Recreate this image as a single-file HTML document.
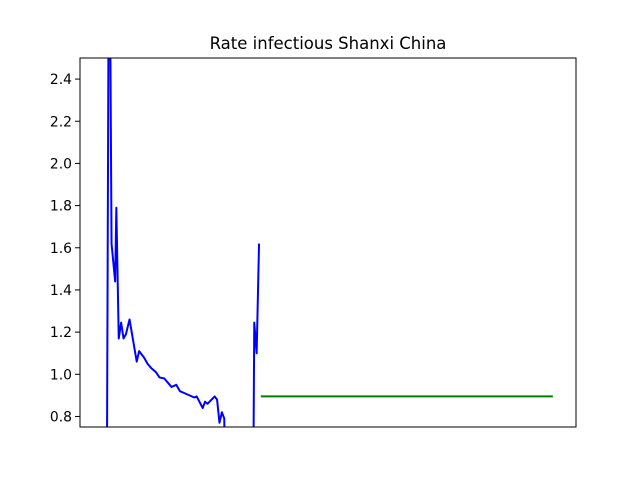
<!DOCTYPE html>
<html><head><meta charset="utf-8"><style>html,body{margin:0;padding:0;background:#fff;width:640px;height:480px;overflow:hidden;position:relative}svg{display:block;position:absolute;left:0;top:0;font-family:"DejaVu Sans","Liberation Sans",sans-serif}</style></head>
<body>
<svg id="chart" width="640" height="480" viewBox="0 0 640 480">
<rect width="640" height="480" fill="#fff"/>
<text x="328" y="49" text-anchor="middle" font-size="16.5">Rate infectious Shanxi China</text>
<defs><clipPath id="clip"><rect x="80" y="58" width="496" height="369"/></clipPath></defs>
<g id="plot" clip-path="url(#clip)"></g>
<g id="yaxis"></g>
<rect x="80" y="58" width="496" height="369" fill="none" stroke="#000" stroke-width="1"/>
</svg>
<script>
const days1 = [0,2,4,7,8,10,12,14,16,19,25,27,31,34,37,41,44,48,54,58,61,65,69,73,75,80,82,84,90,92,94,96,98,99];
const rate1 = [0.3,3.5,1.62,1.44,1.79,1.17,1.245,1.17,1.19,1.26,1.06,1.11,1.08,1.05,1.03,1.01,0.985,0.98,0.94,0.95,0.92,0.91,0.90,0.89,0.895,0.84,0.87,0.86,0.895,0.88,0.77,0.82,0.79,0.3];
const days2 = [122,123,125,127];
const rate2 = [0.3,1.245,1.10,1.62];
const greenDays = [128.5,372];
const greenRate = [0.895,0.895];
const yTicks = [0.8,1.0,1.2,1.4,1.6,1.8,2.0,2.2,2.4];
const yMin = 0.75, yMax = 2.5;
const xMin = -22.3, xMax = 391.3;
function xs(d){return 80 + (d - xMin)/(xMax - xMin)*496;}
function ys(v){return 427 - (v - yMin)/(yMax - yMin)*369;}
const NS='http://www.w3.org/2000/svg';
const plot=document.getElementById('plot');
function line(dx,vy,color,name){
  const p=document.createElementNS(NS,'polyline');
  p.setAttribute('points',dx.map((d,i)=>xs(d).toFixed(2)+','+ys(vy[i]).toFixed(2)).join(' '));
  p.setAttribute('fill','none');p.setAttribute('stroke',color);p.setAttribute('stroke-width','2');p.setAttribute('stroke-linejoin','round');
  
  
  plot.appendChild(p);
}
line(days1,rate1,'#0000ff','rate-line-segment-1');
line(days2,rate2,'#0000ff','rate-line-segment-2');
line(greenDays,greenRate,'#008000','reference-line');
const ya=document.getElementById('yaxis');
yTicks.forEach(t=>{
  const y=ys(t);
  const l=document.createElementNS(NS,'line');
  l.setAttribute('x1',75);l.setAttribute('x2',80);l.setAttribute('y1',y);l.setAttribute('y2',y);l.setAttribute('stroke','#000');
  
  
  ya.appendChild(l);
  const tx=document.createElementNS(NS,'text');
  tx.setAttribute('x',72);tx.setAttribute('y',y+5);tx.setAttribute('text-anchor','end');tx.setAttribute('font-size','13.9');
  tx.textContent=t.toFixed(1);
  
  
  ya.appendChild(tx);
});
</script>
</body></html>
